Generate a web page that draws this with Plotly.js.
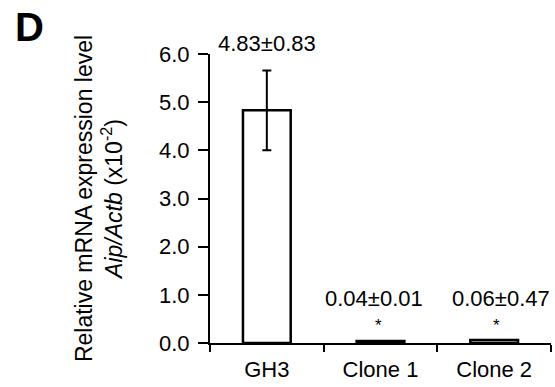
<!DOCTYPE html>
<html>
<head>
<meta charset="utf-8">
<script src="https://cdn.plot.ly/plotly-3.0.1.min.js"></script>
<style>
html,body{margin:0;padding:0;background:#fff;}
#chart{width:555px;height:387px;}
</style>
</head>
<body>
<div id="chart"></div>
<script>
// Data
const categories = ["GH3", "Clone 1", "Clone 2"];
const means = [4.83, 0.04, 0.06];
const sds = [0.83, 0.01, 0.47];
const errorShown = [0.83, null, null];
const significance = ["", "*", "*"];
const yTickVals = [0, 1, 2, 3, 4, 5, 6];
const yTickText = ["0.0", "1.0", "2.0", "3.0", "4.0", "5.0", "6.0"];

const FONT = "Liberation Sans, Arial, Helvetica, sans-serif";

const trace = {
  type: "bar",
  x: categories,
  y: means,
  marker: {color: "#ffffff", line: {color: "#000000", width: 2.5}},
  error_y: {type: "data", array: errorShown, visible: true, color: "#000000", thickness: 2, width: 4.5},
  hoverinfo: "skip",
  cliponaxis: false
};

// label placement (layout only)
const labelY = [6, 0.93, 0.93];
const labelYShift = [11, 0, 0];
const labelXShift = [0, -7, 7];
const annotations = [];
categories.forEach((c, i) => {
  annotations.push({
    x: c, y: labelY[i], xref: "x", yref: "y",
    text: means[i].toFixed(2) + "±" + sds[i].toFixed(2),
    showarrow: false, xshift: labelXShift[i], yshift: labelYShift[i],
    font: {family: FONT, size: 22, color: "#000"},
    xanchor: "center", yanchor: "middle"
  });
  if (significance[i]) {
    annotations.push({
      x: c, y: 0.37, xref: "x", yref: "y",
      text: significance[i], showarrow: false, xshift: labelXShift[i] * 0.3,
      font: {family: FONT, size: 17, color: "#000"},
      xanchor: "center", yanchor: "middle"
    });
  }
});
annotations.push({
  x: -0.577, y: 1.095, xref: "paper", yref: "paper",
  text: "<b>D</b>", showarrow: false,
  font: {family: FONT, size: 40, color: "#000"},
  xanchor: "left", yanchor: "middle"
});

const layout = {
  width: 555, height: 387,
  margin: {l: 210, r: 4, t: 54, b: 44, pad: 0},
  paper_bgcolor: "#fff", plot_bgcolor: "#fff",
  showlegend: false,
  bargap: 0.58,
  font: {family: FONT, size: 22, color: "#000"},
  xaxis: {
    type: "category",
    range: [-0.5, 2.5],
    showline: true, linecolor: "#000", linewidth: 2,
    ticks: "outside", tickson: "boundaries", ticklen: 7, tickwidth: 2, tickcolor: "#000",
    tickfont: {family: FONT, size: 22, color: "#000"},
    ticklabelstandoff: 6,
    showgrid: false, zeroline: false, fixedrange: true
  },
  yaxis: {
    range: [0, 6],
    tickvals: yTickVals, ticktext: yTickText,
    showline: true, linecolor: "#000", linewidth: 2,
    ticks: "outside", ticklen: 10, tickwidth: 2, tickcolor: "#000",
    tickfont: {family: FONT, size: 22, color: "#000"},
    ticklabelstandoff: 4,
    showgrid: false, zeroline: false, fixedrange: true,
    title: {
      text: "Relative mRNA expression level<br><i>Aip/Actb</i> (x10<sup>-2</sup>)",
      font: {family: FONT, size: 23, color: "#000"},
      standoff: 30
    }
  },
  annotations: annotations
};

Plotly.newPlot("chart", [trace], layout, {displayModeBar: false, staticPlot: true});
</script>
</body>
</html>
